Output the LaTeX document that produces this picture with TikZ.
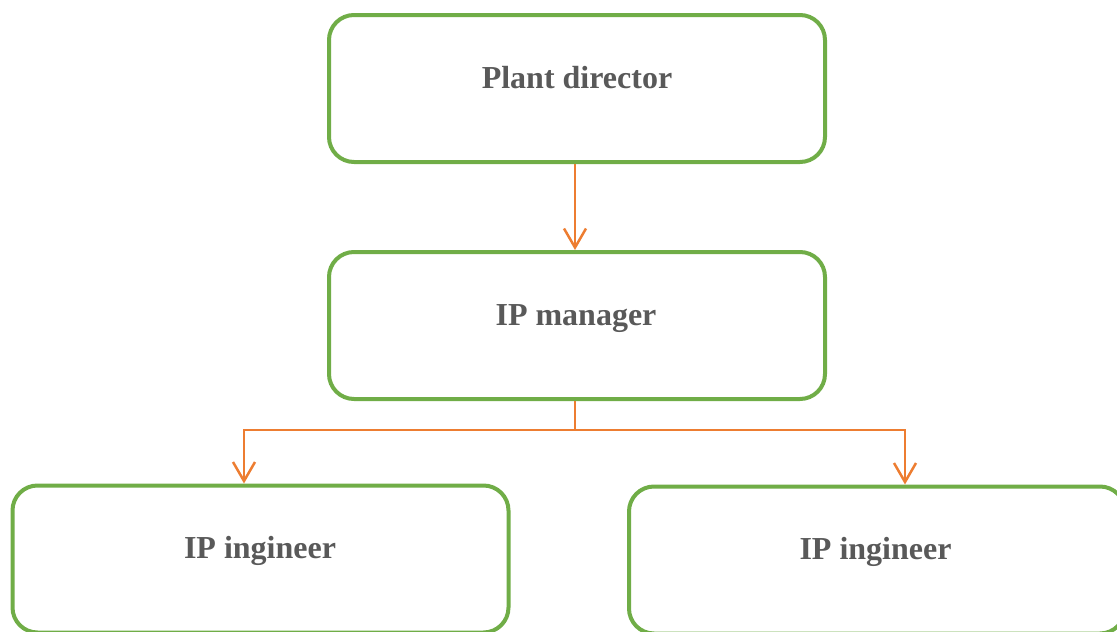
\documentclass[tikz,border=0pt]{standalone}
\usepackage{fontspec}
\setmainfont{Liberation Serif}
\usetikzlibrary{arrows.meta}
\definecolor{boxgreen}{HTML}{70AD47}
\definecolor{linkorange}{HTML}{ED7D31}
\definecolor{labelgrey}{HTML}{595959}
\tikzset{
  orgbox/.style={draw=boxgreen, line width=4pt, rounded corners=25pt,
    minimum width=496pt, minimum height=147pt, inner sep=0pt, fill=white},
  orglabel/.style={anchor=base, text=labelgrey, inner sep=0pt,
    font=\fontsize{32}{38}\selectfont\bfseries},
  link/.style={draw=linkorange, line width=2.5pt,
    -{Straight Barb[length=19pt,width=22pt,line width=2.5pt]}},
  plain/.style={draw=linkorange, line width=2.5pt}
}
\begin{document}
\begin{tikzpicture}[x=1pt,y=-1pt]
  \useasboundingbox (0,0) rectangle (1117,632);
  \clip (0,0) rectangle (1117,632);
  % boxes
  \node[orgbox] (pd) at (577,88.5) {};
  \node[orgbox] (pm) at (577,325.5) {};
  \node[orgbox] (e1) at (260.5,559) {};
  \node[orgbox] (e2) at (877,560) {};
  % labels
  \node[orglabel] (tpd) at (577,88) {Plant director};
  \node[orglabel] (tpm) at (576,325) {IP manager};
  \node[orglabel] (te1) at (260,558) {IP ingineer};
  \node[orglabel] (te2) at (875.5,559) {IP ingineer};
  % connectors
  \coordinate (j) at (575,430);
  \coordinate (l) at (244,430);
  \coordinate (r) at (905,430);
  \draw[link] (pd.south -| j) -- (pm.north -| j);
  \draw[plain] (pm.south -| j) -- (j);
  \draw[link] (j) -- (l) -- (e1.north -| l);
  \draw[link] (j) -- (r) -- (e2.north -| r);
\end{tikzpicture}
\end{document}
